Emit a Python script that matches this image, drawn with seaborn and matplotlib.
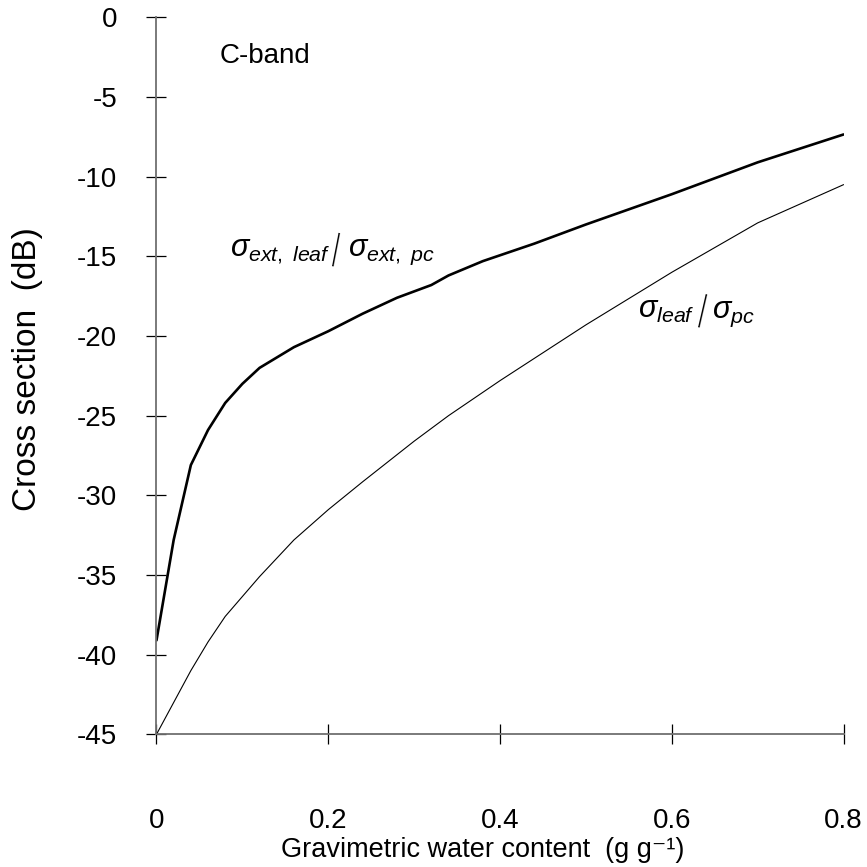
import matplotlib
matplotlib.use("Agg")
import matplotlib.pyplot as plt
import seaborn as sns
import pandas as pd

# Data
ext_x = [0, 0.02, 0.04, 0.06, 0.08, 0.10, 0.12, 0.16, 0.20, 0.24, 0.28, 0.32, 0.34, 0.38, 0.44, 0.50, 0.60, 0.70, 0.80]
ext_y = [-39.1, -32.8, -28.1, -25.9, -24.2, -23.0, -22.0, -20.7, -19.7, -18.6, -17.6, -16.8, -16.2, -15.3, -14.2, -13.0, -11.1, -9.1, -7.35]
sig_x = [0, 0.04, 0.06, 0.08, 0.12, 0.16, 0.20, 0.24, 0.30, 0.34, 0.40, 0.50, 0.60, 0.70, 0.80]
sig_y = [-45, -41.0, -39.2, -37.6, -35.1, -32.8, -30.9, -29.15, -26.6, -25.0, -22.8, -19.3, -16.0, -12.9, -10.5]

xticks = [0, 0.2, 0.4, 0.6, 0.8]
xticklabels = ["0", "0.2", "0.4", "0.6", "0.8"]
yticks = [0, -5, -10, -15, -20, -25, -30, -35, -40, -45]
yticklabels = ["0", "-5", "-10", "-15", "-20", "-25", "-30", "-35", "-40", "-45"]

sns.set_style("white")
plt.rcParams['font.family'] = ['Liberation Sans', 'DejaVu Sans']
plt.rcParams['mathtext.fontset'] = 'custom'
plt.rcParams['mathtext.rm'] = 'Liberation Sans'
plt.rcParams['mathtext.it'] = 'Liberation Sans:italic'
plt.rcParams['mathtext.bf'] = 'Liberation Sans:bold'
plt.rcParams['text.color'] = 'black'
plt.rcParams['axes.labelcolor'] = 'black'
plt.rcParams['xtick.color'] = 'black'
plt.rcParams['ytick.color'] = 'black'

fig = plt.figure(figsize=(8.67, 8.67), dpi=100)
ax = fig.add_axes([0.1805, 0.153, 0.7925, 0.827])

df_ext = pd.DataFrame({"x": ext_x, "y": ext_y})
df_sig = pd.DataFrame({"x": sig_x, "y": sig_y})
sns.lineplot(data=df_ext, x="x", y="y", ax=ax, color="black", linewidth=1.9, estimator=None, sort=False)
sns.lineplot(data=df_sig, x="x", y="y", ax=ax, color="black", linewidth=0.8, estimator=None, sort=False)

ax.set_xlim(0, 0.8)
ax.set_ylim(-45, 0)
ax.set_xticks(xticks)
ax.set_xticklabels(xticklabels)
ax.set_yticks(yticks)
ax.set_yticklabels(yticklabels)

for s in ["top", "right"]:
    ax.spines[s].set_visible(False)
for s in ["left", "bottom"]:
    ax.spines[s].set_color("#707070")
    ax.spines[s].set_linewidth(1.3)

ax.tick_params(axis="both", which="major", bottom=True, left=True, direction="inout",
               length=14.4, width=0.9, color="black", labelcolor="black", labelsize=20)
ax.tick_params(axis="x", pad=46)
ax.tick_params(axis="y", pad=21)

ax.set_xlabel("Gravimetric water content  (g g\u207b\u00b9)", fontsize=19.5)
ax.xaxis.label.set_va("center")
ax.set_ylabel("Cross section  (dB)", fontsize=24)
ax.xaxis.set_label_coords(0.475, -0.161)
ax.yaxis.set_label_coords(-0.165, 0.51)

ax.text(0.074, -2.4, "C-band", fontsize=20, ha="left", va="center")

# Label 1: sigma_ext,leaf / sigma_ext,pc
ax.text(0.0856, -15.0, r"$\sigma_{ext,\ leaf}$", fontsize=22, ha="left", va="baseline")
ax.text(0.2075, -14.65, "|", fontsize=24, ha="center", va="center", rotation=-11,
        family=["DejaVu Sans"], fontweight="light")
ax.text(0.223, -15.0, r"$\sigma_{ext,\ pc}$", fontsize=22, ha="left", va="baseline")

# Label 2: sigma_leaf / sigma_pc
ax.text(0.561, -18.88, r"$\sigma_{leaf}$", fontsize=22, ha="left", va="baseline")
ax.text(0.635, -18.45, "|", fontsize=24, ha="center", va="center", rotation=-13,
        family=["DejaVu Sans"], fontweight="light")
ax.text(0.647, -18.88, r"$\sigma_{pc}$", fontsize=22, ha="left", va="baseline")

fig.savefig("out.png", dpi=100)
